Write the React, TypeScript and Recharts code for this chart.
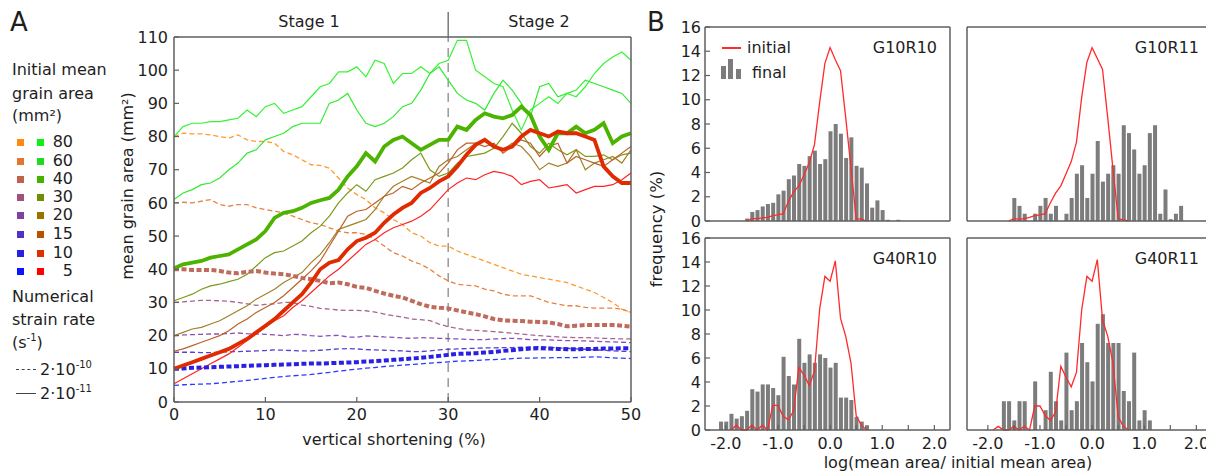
import { LineChart, Line, XAxis, YAxis, ReferenceLine, ComposedChart, Bar } from 'recharts'

const FONT = '"DejaVu Sans", sans-serif'
const AXIS = '#5f5f5f'
const TEXT = '#1e1e1e'
const N = null

// ---- panel A: mean grain area vs vertical shortening ----
const shortening = [0, 1, 2, 3, 4, 5, 6, 7, 8, 9, 10, 11, 12, 13, 14, 15, 16, 17, 18, 19, 20, 21, 22, 23, 24, 25,
  26, 27, 28, 29, 30, 31, 32, 33, 34, 35, 36, 37, 38, 39, 40, 41, 42, 43, 44, 45, 46, 47, 48, 49, 50]

// dashed = 2e-10 s-1
const d80 = [80, 81, 80.8, 80.8, 80.5, 80, 79.5, 80.5, 79, 78.5, 78.5, 78, 75.5, 74.5, 73, 71.5, 71.3, 70.5, 67.5, 64.5, 62.5,
  61, 58.5, 57, 55, 53.5, 51, 50, 48, 47, 47, 45.5, 44.5, 43.5, 42.5, 41.5, 40.5, 39.5, 38.5, 38, 37.5,
  37, 36.5, 36, 35, 34, 33, 31.5, 30, 28, 27]
const d60 = [60, 60.2, 60, 60.5, 61, 59.5, 59, 59.5, 59.5, 58.5, 58, 57.5, 57, 56, 55, 54, 53.5, 52.5, 51.5, 51, 51,
  50.5, 49, 47, 45, 44, 42.5, 41.5, 40, 38, 36.5, 35.5, 35.2, 35, 34, 33.5, 32.5, 32, 32, 32, 31,
  30, 29.5, 29, 29, 28.5, 28.3, 28.3, 28.3, 28, 27]
const d40 = [40, 40, 39.8, 39.8, 39.8, 39.5, 39, 38.8, 39.2, 39.5, 39, 38.7, 38.5, 38, 37.4, 37, 36.5, 35.8, 36, 35.5, 34.7,
  34.4, 33.5, 32.7, 32, 31.5, 30.5, 29.5, 28.7, 28.4, 28.2, 27.6, 27, 26.5, 25.8, 25, 24.6, 24.5, 24.4, 24.2, 24.1,
  24, 23.5, 22.8, 23, 23.2, 23.2, 23.2, 23.2, 23, 22.7]
const d30 = [30, 30.2, 30.4, 30.6, 30.6, 30.5, 30.4, 30, 29.6, 29.1, 29.4, 29.6, 30, 30, 29.2, 28.8, 28.2, 28, 27.7, 27.6, 27.6,
  27.5, 27.1, 26.5, 26, 25.6, 25, 24.8, 24.5, 23.5, 22.7, 22.2, 21.7, 21.6, 21.4, 21.2, 21, 20.7, 20.5, 20.2, 20,
  19.8, 19.6, 19.5, 19.4, 19.4, 19.3, 19.2, 19.1, 19, 19]
const d20 = [20, 20.2, 20.3, 20.4, 20.5, 20.5, 20.6, 20.8, 20.6, 20.5, 20.4, 20.2, 20, 20.4, 20.3, 20, 19.8, 20, 20.1, 19.6, 19.5,
  19.9, 19.8, 19.6, 19.5, 19.3, 19.2, 19.4, 19.3, 19.2, 19.1, 19, 18.9, 18.8, 18.8, 19, 19.1, 19.2, 19, 18.8, 18.7,
  18.7, 18.6, 18.5, 18.5, 18.4, 18.3, 18.2, 18.1, 18, 17.9]
const d15 = [15, 15, 15, 14.9, 14.9, 15, 15.1, 15.2, 15.3, 15.4, 15.5, 15.7, 15.6, 15.5, 15.4, 15.4, 15.6, 15.8, 16, 16.1, 16,
  15.8, 15.7, 15.6, 15.5, 15.4, 15.2, 15.2, 15.4, 15.7, 15.9, 16, 16.1, 16.2, 16.3, 16.3, 16.4, 16.4, 16.5, 16.6, 16.7,
  16.5, 16.3, 16.2, 16, 15.9, 15.7, 15.6, 15.4, 15.3, 15.2]
const d10 = [10, 10.1, 10.3, 10.4, 10.5, 10.6, 10.7, 10.8, 10.9, 11, 11.1, 11.2, 11.3, 11.4, 11.5, 11.6, 11.6, 11.7, 11.8, 11.9, 12,
  12.2, 12.3, 12.5, 12.7, 12.9, 13.1, 13.3, 13.6, 13.9, 14.2, 14.5, 14.6, 14.7, 14.9, 15.1, 15.4, 15.6, 15.9, 16.1, 16.2,
  16.1, 16, 15.9, 15.9, 16, 16, 16.1, 16.1, 16.2, 16.2]
const d5 = [5, 5.2, 5.3, 5.4, 5.5, 5.7, 6, 6.2, 6.5, 6.8, 7.1, 7.4, 7.7, 7.9, 8.1, 8.3, 8.6, 8.9, 9.3, 9.6, 9.9,
  10.2, 10.4, 10.7, 10.9, 11.1, 11.3, 11.5, 11.7, 11.9, 12.1, 12.3, 12.4, 12.5, 12.7, 12.8, 12.9, 13.1, 13.2, 13.2, 13.3,
  13.3, 13.4, 13.4, 13.4, 13.5, 13.6, 13.5, 13.3, 13.2, 13.1]

// solid = 2e-11 s-1
const s80 = [80, 83, 84, 84, 84.5, 84.5, 85, 85.5, 88, 86, 89, 90, 87, 88, 89, 92, 95, 96, 99.5, 99.5, 101,
  98, 103, 102, 96, 99, 99, 101, 99, 102, 103, 109, 109, 100, 98, 96, 95, 88, 82, 88, 90,
  92, 90, 93, 92, 95, 99, 102, 104, 105.5, 103]
const s60 = [61, 63, 64, 65.5, 66, 67.5, 70, 72, 75, 76, 79, 80, 81, 83, 84, 84, 84, 90, 91, 93, 88,
  84, 83, 84, 86, 89, 90, 94, 99, 101, 97, 93, 91, 90, 88, 93, 97, 94, 90, 86, 95,
  96, 92, 93, 94, 97, 96, 95, 94, 93, 90]
const s40 = [40.3, 41.5, 42, 42.5, 43.5, 44, 44.5, 46, 47.5, 49, 51.5, 55.5, 57, 57.5, 58.5, 60, 60.8, 61.5, 64, 68, 71,
  75, 72.5, 77, 79, 80, 78, 76, 77.5, 79, 79, 83, 82, 85, 87, 86, 85.5, 86.5, 89, 86.5, 80,
  76, 81, 81, 83, 81, 82, 84, 78, 80, 81]
const s30 = [30.5, 31.5, 32.5, 34, 35, 35.5, 36.3, 37, 38.5, 41, 43.5, 45, 45.5, 47, 48.5, 51, 53, 56, 60, 63, 65.5,
  63.5, 67, 68, 69, 70.5, 73, 75, 70, 68, 69, 72, 74, 74.5, 75, 76.5, 80, 84, 81, 77, 75,
  78, 76, 74.5, 76, 74, 74, 74.5, 73, 74.5, 75]
const s20 = [20, 21, 22, 22.5, 23.5, 24.5, 26, 27.5, 29, 31, 32.5, 34, 36, 37.5, 39, 42, 44.5, 48, 52, 53, 54,
  55, 58, 62, 65, 66.5, 68, 67, 66, 71, 73, 74, 76, 78, 79, 77, 76, 78, 77, 74, 70,
  72, 71, 72, 76, 70, 72, 73, 74, 72, 76]
const s15 = [15.3, 16, 17, 18, 19, 20, 21.5, 23.5, 25, 27, 28.5, 30, 32, 34.5, 37, 39.5, 42.5, 47, 51.5, 56, 57.5,
  58, 60, 62, 63, 65, 64, 66, 67.5, 69, 72, 76, 78, 78, 77, 78, 75, 77, 79, 78, 74,
  77, 78, 72, 74, 73, 72, 71, 73, 75, 77]
const s10 = [10, 11, 12, 13, 14, 15, 16, 17.5, 19, 21, 23, 25, 27.5, 30, 32.5, 36, 40, 42, 42.8, 46, 48.5,
  49.5, 51, 54, 56.5, 58.5, 60, 63, 64.5, 66.5, 68, 71, 74.5, 77.5, 79, 77, 76, 77, 80, 82, 81,
  80, 81.5, 81, 81, 80, 79, 71, 68, 66, 66]
const s5 = [5.5, 7, 8.5, 10, 11.5, 13, 14.5, 16.5, 18.5, 20.5, 22.5, 24.5, 26, 28.5, 30.5, 33, 35.5, 38, 40, 42.5, 45,
  47.5, 49, 51, 52.5, 53.5, 54.5, 56, 58, 61, 64, 66, 67.5, 67, 68.5, 69.5, 69, 68, 65.5, 66.5, 67,
  64.5, 65, 65.5, 63, 64, 65, 65, 65.5, 67, 69]

const legendSizes = ['80', '60', '40', '30', '20', '15', '10', '5']
const dashedColors = ['#ff8a10', '#e2762e', '#c0614e', '#a2507a', '#8042a2', '#5232c2', '#2a20e0', '#0a14ff']
const solidColors = ['#11ee11', '#22d922', '#44b000', '#6c9000', '#9a7200', '#b85200', '#dd3000', '#ff0000']

const seriesA = [
  { key: 'd80', data: d80, color: '#ff9a30', width: 1.3, dash: '5 3' },
  { key: 'd60', data: d60, color: '#e8823e', width: 1.3, dash: '5 3' },
  { key: 'd30', data: d30, color: '#a86590', width: 1.3, dash: '5 3' },
  { key: 'd20', data: d20, color: '#8a50b0', width: 1.3, dash: '5 3' },
  { key: 'd15', data: d15, color: '#5a40d0', width: 1.3, dash: '5 3' },
  { key: 'd5', data: d5, color: '#2a3aff', width: 1.3, dash: '5 3' },
  { key: 's80', data: s80, color: '#33f533', width: 1.2, dash: undefined },
  { key: 's60', data: s60, color: '#33ea33', width: 1.2, dash: undefined },
  { key: 's30', data: s30, color: '#7a9a18', width: 1.2, dash: undefined },
  { key: 's20', data: s20, color: '#a28028', width: 1.2, dash: undefined },
  { key: 's15', data: s15, color: '#bb6028', width: 1.2, dash: undefined },
  { key: 's5', data: s5, color: '#ff2424', width: 1.2, dash: undefined },
  { key: 'd40', data: d40, color: '#c06a5c', width: 4, dash: '5 2.5' },
  { key: 'd10', data: d10, color: '#2a20e4', width: 4, dash: '5 2.5' },
  { key: 's40', data: s40, color: '#4cb400', width: 3.8, dash: undefined },
  { key: 's10', data: s10, color: '#e02a00', width: 3.8, dash: undefined },
]

const rowsA = shortening.map((x, i) => {
  const r: Record<string, number> = { x }
  seriesA.forEach((s) => { r[s.key] = s.data[i] })
  return r
})

// ---- panel B: histograms of log(mean area / initial mean area) ----
const bins = [-2.2, -2.1, -2.0, -1.9, -1.8, -1.7, -1.6, -1.5, -1.4, -1.3, -1.2, -1.1, -1.0, -0.9, -0.8, -0.7, -0.6, -0.5,
  -0.4, -0.3, -0.2, -0.1, 0.0, 0.1, 0.2, 0.3, 0.4, 0.5, 0.6, 0.7, 0.8, 0.9, 1.0, 1.1, 1.2, 1.3, 1.4, 1.5, 1.6, 1.7, 1.8]

const g10r10Final = [N, N, N, N, N, N, 0.2, 0.75, 0.9, 1.2, 1.4, 1.5, 2.2, 2.5, 3.45, 3.75,
  4.7, 4.55, 5.35, 5.8, 4.7, 5.1, 7.4, 8.0, 7.2, 5.2, 6.9, 4.55, 4.4, 3.1, 1.1, 1.7, 0.9, 0.1, N, 0.1, N, N, N, N, N]
const g10r10Init = [N, N, N, N, N, N, 0, 0.2, 0.2, 0.25, 0.3, 0.45, 0.5, 0.6, 1.6, 2.4,
  2.9, 3.8, 4.8, 6.3, 9.8, 13.0, 14.3, 13.3, 12.4, 8.5, 4.4, 0.2, 0.15, 0, N, N, N, N, N, N, N, N, N, N, N]
const g10r11Final = [N, N, N, N, N, N, N, 1.9, 1.25, 0.6, N, 0.6, 1.25, 1.9, 0.6, 1.25, N, 0.6, 1.9, 3.9,
  4.6, 1.9, 3.9, 6.6, 3.25, 3.9, 4.6, 3.9, 7.9, 7.25, 5.9, 3.9, 4.6, 7.25, 7.9, 0.6, 2.6, 0.15, 0.6, 1.25, N]
const g10r11Init = [N, N, N, N, N, N, 0, 0.2, 0.15, 0.2, 0.3, 0.45, 0.5, 0.6, 1.5, 2.3,
  2.9, 3.9, 4.9, 6.5, 10.2, 13.1, 14.3, 13.4, 12.5, 8.5, 4.3, 0.2, 0.1, 0, N, N, N, N, N, N, N, N, N, N, N]
const g40r10Final = [N, 0.7, 0.7, 1.35, 0.95, 1.15, 1.6, 3.4, 3.2, 3.8, 3.8, 3.5, 2.9, 6.1, 4.5, 3.8, 7.6, 5.6, 6.3, 5.6,
  6.3, 6.0, 5.2, 5.6, 2.7, 2.7, 2.5, 1.1, 0.7, 0.4, N, N, N, N, N, N, N, N, N, N, N]
const g40r10Init = [N, N, N, 0, 0.4, 0, 0, 0.4, 0, 0.4, 0, 2.05, 2.05, 1.15, 0.85, 1.6, 5.2, 4.6, 3.7, 4.9,
  10.1, 12.8, 12.4, 14.1, 9.3, 7.8, 5.6, 1.2, 0.4, 0, N, N, N, N, N, N, N, N, N, N, N]
const g40r11Final = [N, N, N, N, N, 2.4, 2.4, 0.8, 2.4, 2.4, N, 4.05, N, 1.65, 4.85, 2.4, 0.8, 6.45, 1.65, 2.4,
  7.25, 5.65, 4.05, 8.85, 9.65, 7.25, 7.25, 7.25, 3.25, 2.4, 6.45, 0.8, 1.65, 0.8, N, N, N, N, N, N, N]
const g40r11Init = [N, N, N, 0, 0.3, 0, 0, 0.3, 0, 0.3, 0, 2.0, 2.0, 1.2, 0.8, 1.5, 5.3, 4.4, 3.6, 4.8,
  10.0, 12.8, 12.4, 14.2, 9.2, 7.8, 5.6, 1.1, 0.3, 0, N, N, N, N, N, N, N, N, N, N, N]

const logTicks = [-2, -1.5, -1, -0.5, 0, 0.5, 1, 1.5, 2]
const freqTicks = [0, 2, 4, 6, 8, 10, 12, 14, 16]

const panels = [
  { title: 'G10R10', final: g10r10Final, initial: g10r10Init, left: 705, top: 27, h: 194, showY: true, showX: false },
  { title: 'G10R11', final: g10r11Final, initial: g10r11Init, left: 967, top: 27, h: 194, showY: false, showX: false },
  { title: 'G40R10', final: g40r10Final, initial: g40r10Init, left: 705, top: 238, h: 192, showY: true, showX: true },
  { title: 'G40R11', final: g40r11Final, initial: g40r11Init, left: 967, top: 238, h: 192, showY: false, showX: true },
]

const axisLine = { stroke: AXIS, strokeWidth: 1.5 }
const tickLine = { stroke: AXIS, strokeWidth: 1.2 }
const tickStyle = { fontSize: 16, fill: TEXT }
const fmtLog = (v: number) => (Math.abs(v - Math.round(v)) < 1e-6 ? v.toFixed(1) : '')

function Txt({ x, y, children, size = 16, align = 'center', rotate = false }: any) {
  const tx = align === 'center' ? '-50%' : align === 'right' ? '-100%' : '0'
  return (
    <div
      style={{
        position: 'absolute', left: x, top: y, fontSize: size, lineHeight: 1, whiteSpace: 'nowrap', color: TEXT,
        transform: `translate(${tx}, -50%)${rotate ? ' rotate(-90deg)' : ''}`,
      }}
    >
      {children}
    </div>
  )
}

function Hist({ p }: any) {
  const rows = bins.map((b, i) => ({ b, final: p.final[i], initial: p.initial[i] }))
  const yw = p.showY ? 40 : 0
  const ml = p.showY ? 0 : 5
  const xh = p.showX ? 30 : 0
  const mt = 12
  const mb = p.showX ? 0 : 12
  const W = ml + yw + 245 + 5
  const H = mt + p.h + xh + mb
  return (
    <div style={{ position: 'absolute', left: p.left - yw - ml, top: p.top - mt }}>
      <ComposedChart width={W} height={H} data={rows} margin={{ top: mt, right: 5, bottom: mb, left: ml }}>
        <XAxis dataKey="b" type="number" domain={[-2.4, 2.3]} ticks={logTicks} interval={0}
          mirror={!p.showX} height={30} tickSize={p.showX ? -5 : 5} tickMargin={13}
          tick={p.showX ? tickStyle : false} tickFormatter={fmtLog} axisLine={axisLine} tickLine={tickLine} />
        <XAxis xAxisId="top" orientation="top" dataKey="b" type="number" domain={[-2.4, 2.3]} ticks={logTicks}
          interval={0} mirror tick={false} tickSize={5} axisLine={axisLine} tickLine={tickLine} />
        <YAxis type="number" domain={[0, 16]} ticks={freqTicks} interval={0} mirror={!p.showY} width={40}
          tickSize={p.showY ? -5 : 5} tickMargin={9} tick={p.showY ? tickStyle : false} axisLine={axisLine} tickLine={tickLine} />
        <YAxis yAxisId="right" orientation="right" type="number" domain={[0, 16]} ticks={freqTicks} interval={0}
          mirror tick={false} tickSize={5} axisLine={axisLine} tickLine={tickLine} />
        <Bar dataKey="final" fill="#7c7c7c" barSize={4} isAnimationActive={false} />
        <Line dataKey="initial" stroke="#ff2a2a" strokeWidth={1.3} dot={false} isAnimationActive={false} />
      </ComposedChart>
    </div>
  )
}

export default function App() {
  return (
    <div style={{ position: 'absolute', left: 0, top: 0, width: 1206, height: 475, overflow: 'hidden', background: '#fff', fontFamily: FONT, color: TEXT }}>
      {/* panel A */}
      <div style={{ position: 'absolute', left: 0, top: 0 }}>
        <LineChart width={660} height={475} data={rowsA} margin={{ top: 37, right: 29, bottom: 33, left: 124 }}>
          <XAxis dataKey="x" type="number" domain={[0, 50]} ticks={[0, 10, 20, 30, 40, 50]} interval={0} height={40}
            tickSize={-5} tickMargin={12} tick={tickStyle} axisLine={axisLine} tickLine={tickLine} />
          <XAxis xAxisId="top" orientation="top" dataKey="x" type="number" domain={[0, 50]} ticks={[0, 10, 20, 30, 40, 50]}
            interval={0} mirror tick={false} tickSize={5} axisLine={axisLine} tickLine={tickLine} />
          <YAxis type="number" domain={[0, 110]} ticks={[0, 10, 20, 30, 40, 50, 60, 70, 80, 90, 100, 110]} interval={0}
            width={50} tickSize={-5} tickMargin={11} tick={tickStyle} axisLine={axisLine} tickLine={tickLine} />
          <YAxis yAxisId="right" orientation="right" type="number" domain={[0, 110]}
            ticks={[0, 10, 20, 30, 40, 50, 60, 70, 80, 90, 100, 110]} interval={0} mirror tick={false} tickSize={5}
            axisLine={axisLine} tickLine={tickLine} />
          <ReferenceLine x={30} stroke="#9a9a9a" strokeWidth={1.5} strokeDasharray="9 6" />
          <ReferenceLine segment={[{ x: 30, y: 110 }, { x: 30, y: 117.5 }]} stroke="#7a7a7a" strokeWidth={1.5} ifOverflow="visible" />
          {seriesA.map((s) => (
            <Line key={s.key} dataKey={s.key} stroke={s.color} strokeWidth={s.width} strokeDasharray={s.dash}
              dot={false} isAnimationActive={false} type="linear" />
          ))}
        </LineChart>
      </div>

      <Txt x={19} y={22} size={26}>A</Txt>
      <Txt x={309} y={22}>Stage 1</Txt>
      <Txt x={539} y={22}>Stage 2</Txt>
      <Txt x={394} y={440}>vertical shortening (%)</Txt>
      <Txt x={128} y={186} rotate>mean grain area (mm²)</Txt>

      {/* panel A legend */}
      <Txt x={12} y={70} align="left">Initial mean</Txt>
      <Txt x={12} y={94} align="left">grain area</Txt>
      <Txt x={12} y={116} align="left">(mm²)</Txt>
      {legendSizes.map((s, i) => {
        const cy = [142, 161, 179, 197, 215, 234, 253, 271][i]
        return (
          <div key={s}>
            <div style={{ position: 'absolute', left: 17, top: cy - 3.5, width: 7, height: 7, background: dashedColors[i] }} />
            <div style={{ position: 'absolute', left: 37, top: cy - 3.5, width: 7, height: 7, background: solidColors[i] }} />
            <Txt x={73} y={cy} align="right">{s}</Txt>
          </div>
        )
      })}
      <Txt x={12} y={297} align="left">Numerical</Txt>
      <Txt x={12} y={320} align="left">strain rate</Txt>
      <Txt x={12} y={342} align="left">(s<sup style={{ fontSize: 10 }}>-1</sup>)</Txt>
      <div style={{ position: 'absolute', left: 16, top: 369, width: 20, borderTop: '1.5px dashed #444' }} />
      <Txt x={40} y={369} align="left">2·10<sup style={{ fontSize: 10 }}>-10</sup></Txt>
      <div style={{ position: 'absolute', left: 16, top: 393, width: 20, borderTop: '1.5px solid #444' }} />
      <Txt x={40} y={393} align="left">2·10<sup style={{ fontSize: 10 }}>-11</sup></Txt>

      {/* panel B */}
      {panels.map((p) => <Hist key={p.title} p={p} />)}
      {panels.map((p) => (
        <Txt key={p.title + 't'} x={p.left + 232} y={p.top + 21} align="right">{p.title}</Txt>
      ))}
      <Txt x={656} y={22} size={26}>B</Txt>
      <Txt x={657} y={229} size={16.5} rotate>frequency (%)</Txt>
      <Txt x={958} y={463}>log(mean area/ initial mean area)</Txt>

      {/* panel B legend */}
      <div style={{ position: 'absolute', left: 722, top: 47, width: 19, height: 1.6, background: '#ff2a2a' }} />
      <Txt x={747} y={48} align="left">initial</Txt>
      <div style={{ position: 'absolute', left: 721, top: 66, width: 5, height: 13, background: '#7c7c7c' }} />
      <div style={{ position: 'absolute', left: 728, top: 59, width: 5, height: 20, background: '#7c7c7c' }} />
      <div style={{ position: 'absolute', left: 736, top: 69, width: 5, height: 10, background: '#7c7c7c' }} />
      <Txt x={752} y={73} align="left">final</Txt>
    </div>
  )
}
